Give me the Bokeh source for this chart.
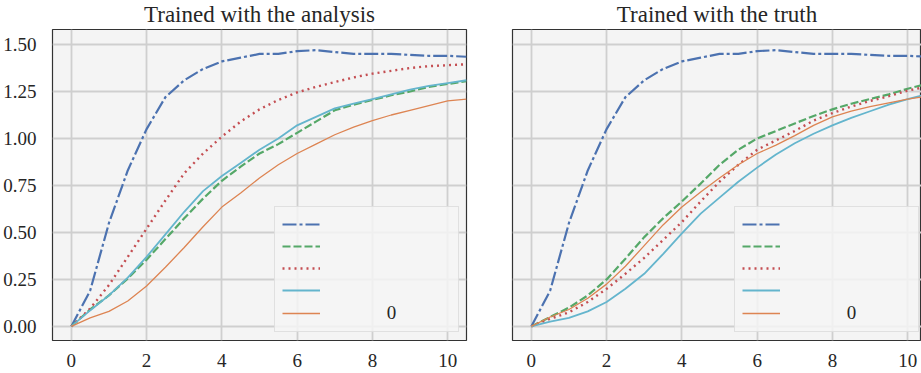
from bokeh.plotting import figure
from bokeh.layouts import row
from bokeh.models import Range1d, Legend, LegendItem, FixedTicker, NumeralTickFormatter
from bokeh.embed import file_html
from bokeh.resources import INLINE

# ---------------- data ----------------
x = [0, 0.5, 1, 1.5, 2, 2.5, 3, 3.5, 4, 4.5, 5, 5.5, 6, 6.5, 7, 7.5, 8, 8.5, 9, 9.5, 10, 10.5]

# Trained with the analysis
ana_blue = [0, 0.19, 0.55, 0.83, 1.05, 1.22, 1.31, 1.37, 1.41, 1.43, 1.45, 1.45, 1.465, 1.47, 1.46, 1.45, 1.45, 1.45, 1.445, 1.44, 1.44, 1.435]
ana_green = [0, 0.09, 0.165, 0.255, 0.355, 0.465, 0.575, 0.68, 0.775, 0.85, 0.92, 0.97, 1.03, 1.09, 1.15, 1.18, 1.205, 1.23, 1.25, 1.275, 1.29, 1.305]
ana_red = [0, 0.095, 0.22, 0.37, 0.52, 0.67, 0.815, 0.92, 1.01, 1.09, 1.155, 1.205, 1.245, 1.275, 1.30, 1.325, 1.345, 1.36, 1.375, 1.385, 1.39, 1.395]
ana_cyan = [0, 0.085, 0.165, 0.26, 0.37, 0.49, 0.61, 0.72, 0.80, 0.87, 0.94, 1.0, 1.07, 1.115, 1.16, 1.185, 1.21, 1.235, 1.26, 1.28, 1.295, 1.31]
ana_orange = [0, 0.045, 0.08, 0.135, 0.215, 0.315, 0.42, 0.53, 0.635, 0.71, 0.79, 0.86, 0.92, 0.97, 1.02, 1.06, 1.095, 1.125, 1.15, 1.175, 1.2, 1.21]

# Trained with the truth
tru_blue = ana_blue
tru_green = [0, 0.05, 0.1, 0.165, 0.25, 0.36, 0.475, 0.575, 0.665, 0.76, 0.86, 0.94, 1.0, 1.04, 1.08, 1.12, 1.155, 1.185, 1.21, 1.235, 1.265, 1.29]
tru_red = [0, 0.04, 0.075, 0.13, 0.2, 0.28, 0.365, 0.46, 0.555, 0.665, 0.77, 0.86, 0.94, 0.99, 1.04, 1.095, 1.135, 1.17, 1.2, 1.225, 1.255, 1.275]
tru_cyan = [0, 0.025, 0.045, 0.08, 0.13, 0.2, 0.28, 0.385, 0.495, 0.6, 0.685, 0.77, 0.845, 0.915, 0.975, 1.025, 1.07, 1.11, 1.145, 1.18, 1.21, 1.235]
tru_orange = [0, 0.05, 0.09, 0.15, 0.225, 0.32, 0.43, 0.54, 0.635, 0.715, 0.79, 0.86, 0.92, 0.965, 1.015, 1.07, 1.115, 1.145, 1.17, 1.19, 1.21, 1.225]

legend_labels = ["", "", "", "", "\u00a0" * 13 + "0"]
x_ticks = [0, 2, 4, 6, 8, 10]
y_ticks = [0, 0.25, 0.5, 0.75, 1.0, 1.25, 1.5]

# ---------------- styles ----------------
FONT = "Liberation Serif"
TXT = "#262626"
styles = [
    dict(color="#4c72b0", line_width=2.2, line_dash="14 3 3 3"),
    dict(color="#55a868", line_width=2.2, line_dash="8 3"),
    dict(color="#c44e52", line_width=2.4, line_dash="2 4"),
    dict(color="#64b5cd", line_width=1.8, line_dash="solid"),
    dict(color="#dd8452", line_width=1.3, line_dash="solid"),
]


def make(title, width, b_left, b_right, x_end, show_y, series):
    p = figure(width=width, height=373, output_backend="svg", toolbar_location=None,
               x_range=Range1d(-0.5, x_end), y_range=Range1d(-0.075, 1.58),
               min_border_left=b_left, min_border_right=b_right,
               min_border_top=29, min_border_bottom=33)
    p.title.text = title
    p.title.align = "center"
    p.title.vertical_align = "top"
    p.title.text_font = FONT
    p.title.text_font_size = "23px"
    p.title.text_font_style = "normal"
    p.title.text_color = TXT
    p.title.standoff = 1

    p.background_fill_color = "#f4f4f4"
    p.border_fill_color = "white"
    p.outline_line_color = "#333333"
    p.outline_line_width = 1.2

    p.xaxis.ticker = FixedTicker(ticks=x_ticks)
    p.yaxis.ticker = FixedTicker(ticks=y_ticks)
    p.xgrid.ticker = FixedTicker(ticks=x_ticks)
    p.ygrid.ticker = FixedTicker(ticks=y_ticks)
    p.yaxis.formatter = NumeralTickFormatter(format="0.00")
    for ax in (p.xaxis, p.yaxis):
        ax.axis_line_color = None
        ax.major_tick_line_color = None
        ax.minor_tick_line_color = None
        ax.major_label_text_font = FONT
        ax.major_label_text_font_size = "19px"
        ax.major_label_text_color = TXT
    p.xaxis.major_label_standoff = 7
    p.yaxis.major_label_standoff = 10
    if not show_y:
        p.yaxis.visible = False

    p.grid.grid_line_color = "#cfcfcf"
    p.grid.grid_line_width = 1.8

    items = []
    for ys, st, lbl in zip(series, styles, legend_labels):
        r = p.line(x, ys, **st)
        items.append(LegendItem(label=lbl, renderers=[r]))
    leg = Legend(items=items, location=(222, 8))
    leg.background_fill_color = "#f4f4f4"
    leg.background_fill_alpha = 0.85
    leg.border_line_color = "#cccccc"
    leg.border_line_width = 1.5
    leg.padding = 7
    leg.spacing = 2
    leg.glyph_width = 38
    leg.glyph_height = 20
    leg.label_height = 20
    leg.label_width = 126
    leg.label_standoff = 5
    leg.label_text_font = FONT
    leg.label_text_font_size = "19px"
    leg.label_text_color = TXT
    p.add_layout(leg)
    return p


left_fig = make("Trained with the analysis", 489, 52, 23, 10.5, True,
                [ana_blue, ana_green, ana_red, ana_cyan, ana_orange])
right_fig = make("Trained with the truth", 432, 23, 0, 10.367, False,
                 [tru_blue, tru_green, tru_red, tru_cyan, tru_orange])

layout = row(left_fig, right_fig)
open("out.html", "w").write(file_html(layout, INLINE))
